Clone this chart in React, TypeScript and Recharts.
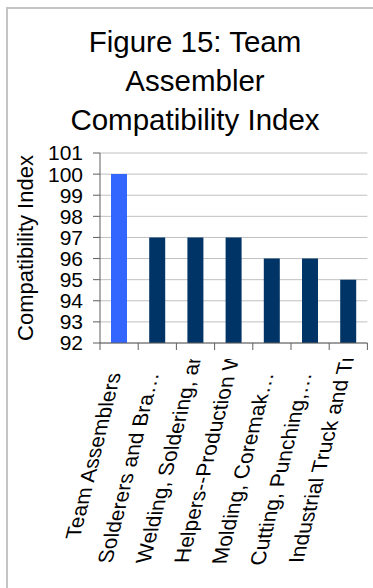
import { BarChart, Bar, XAxis, YAxis, CartesianGrid, Cell } from 'recharts'

const CATEGORIES = [
  'Team Assemblers',
  'Solderers and Bra…',
  'Welding, Soldering, and Brazing Machine Setters',
  'Helpers--Production Workers',
  'Molding, Coremak…',
  'Cutting, Punching,…',
  'Industrial Truck and Tractor Operators',
]
const INDEX_VALUES = [100, 97, 97, 97, 96, 96, 95]
const BAR_COLORS = ['#3366ff', '#003366', '#003366', '#003366', '#003366', '#003366', '#003366']
const Y_TICKS = [92, 93, 94, 95, 96, 97, 98, 99, 100, 101]
const TITLE_LINES = ['Figure 15: Team', 'Assembler', 'Compatibility Index']
const Y_TITLE = 'Compatibility Index'

const FONT = '"Liberation Sans", Arial, sans-serif'
const W = 373
const H = 588
const MARGIN = { top: 153, right: 5.6, bottom: 215, left: 0 }
const Y_AXIS_W = 100
const X_AXIS_H = 30
const PLOT_W = W - MARGIN.left - MARGIN.right - Y_AXIS_W
const PLOT_BOTTOM = H - MARGIN.bottom - X_AXIS_H
const AXIS_COLOR = '#5f5f5f'

// slanted label geometry: glyph stems stay horizontal, baseline climbs steeply
const SLOPE = 0.25
const END_DY = 30 // labels that fit hang from here
const START_DY = 220 // labels that don't fit start here and get cut at the top
const CLIP_DY = 16
const MAX_CHARS = 20

const data = CATEGORIES.map((name, i) => ({ name, value: INDEX_VALUES[i] }))

// category ticks: boundary tick marks plus slanted label
function CategoryTick(props: any) {
  const { x, y, payload, index } = props
  const band = PLOT_W / CATEGORIES.length
  const left = x - band / 2
  const label: string = payload.value
  const fits = label.length <= MAX_CHARS
  const tx = fits ? x + 2 : x + 2 - SLOPE * (START_DY - END_DY)
  const ty = fits ? y + END_DY : y + START_DY
  const clipId = `xlabel-clip-${index}`
  return (
    <g>
      <defs>
        <clipPath id={clipId}>
          <rect x={0} y={y + CLIP_DY} width={W} height={H} />
        </clipPath>
      </defs>
      <line x1={left} y1={y} x2={left} y2={y + 7} stroke={AXIS_COLOR} />
      {index === CATEGORIES.length - 1 && (
        <line x1={left + band} y1={y} x2={left + band} y2={y + 7} stroke={AXIS_COLOR} />
      )}
      <g clipPath={`url(#${clipId})`}>
        <text
          transform={`matrix(${SLOPE} -1 1 0 ${tx} ${ty})`}
          textAnchor={fits ? 'end' : 'start'}
          fontSize={21}
          fontFamily={FONT}
          fill="#000"
        >
          {label}
        </text>
      </g>
    </g>
  )
}

function YTitle() {
  const cy = MARGIN.top + (PLOT_BOTTOM - MARGIN.top) / 2
  return (
    <text
      x={33}
      y={cy}
      transform={`rotate(-90 33 ${cy})`}
      textAnchor="middle"
      fontSize={22}
      fontFamily={FONT}
      fill="#000"
    >
      {Y_TITLE}
    </text>
  )
}

export default function App() {
  return (
    <div style={{ position: 'absolute', left: 0, top: 0, width: W, height: H, overflow: 'hidden', background: '#fff' }}>
      <div
        style={{
          position: 'absolute',
          left: 6,
          top: 7,
          width: W + 40,
          height: H + 40,
          border: '2px solid #c4c4c4',
        }}
      />
      <div
        style={{
          position: 'absolute',
          left: 0,
          top: 22,
          width: 390,
          textAlign: 'center',
          fontFamily: FONT,
          fontSize: 29.5,
          lineHeight: '39px',
          color: '#000',
        }}
      >
        {TITLE_LINES.map((t) => (
          <div key={t}>{t}</div>
        ))}
      </div>
      <div style={{ position: 'absolute', left: 0, top: 0 }}>
        <BarChart width={W} height={H} data={data} margin={MARGIN}>
          <CartesianGrid vertical={false} stroke="#c0c0c0" />
          <XAxis
            dataKey="name"
            interval={0}
            height={X_AXIS_H}
            tickLine={false}
            tickSize={0}
            tickMargin={0}
            axisLine={{ stroke: AXIS_COLOR }}
            tick={<CategoryTick />}
          />
          <YAxis
            type="number"
            domain={[92, 101]}
            ticks={Y_TICKS}
            interval={0}
            width={Y_AXIS_W}
            tickSize={7}
            tickMargin={10}
            axisLine={{ stroke: AXIS_COLOR }}
            tickLine={{ stroke: AXIS_COLOR }}
            tick={{ fontSize: 21, fontFamily: FONT, fill: '#000' }}
            label={<YTitle />}
          />
          <Bar dataKey="value" barSize={16} isAnimationActive={false}>
            {data.map((d, i) => (
              <Cell key={d.name} fill={BAR_COLORS[i]} />
            ))}
          </Bar>
        </BarChart>
      </div>
    </div>
  )
}
